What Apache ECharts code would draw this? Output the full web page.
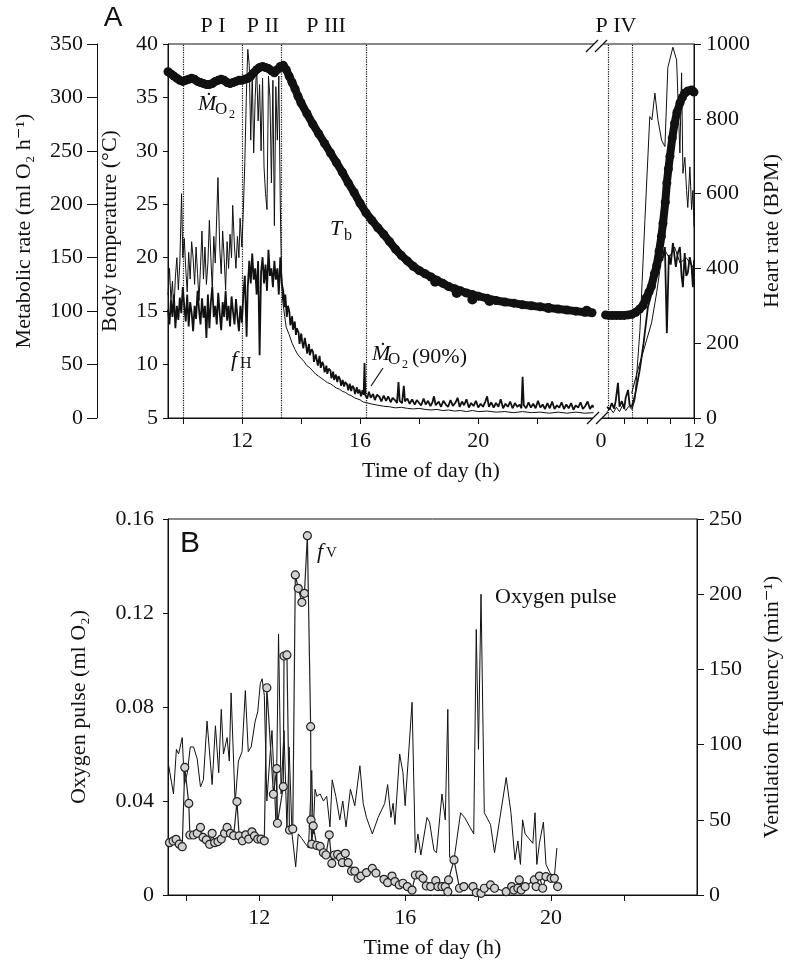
<!DOCTYPE html>
<html>
<head>
<meta charset="utf-8">
<script src="https://cdn.jsdelivr.net/npm/echarts@6/dist/echarts.min.js"></script>
<style>
html, body { margin: 0; background: #fff; }
#chart { width: 799px; height: 960px; }
</style>
</head>
<body>
<div id="chart"></div>
<script>
// second day (after the axis break) is squeezed: hour h of day 2 -> D2_ORIGIN + h * D2_SCALE
var D2_ORIGIN = 24.15, D2_SCALE = 0.2625;
function d2(h) { return D2_ORIGIN + h * D2_SCALE; }

// ---- panel A data: [hour, value] ----
// body temperature (degC)
var tbDay1 = [[9.5,37.4],[9.6,37.2],[9.7,37.0],[9.8,36.8],[9.9,36.6],[10.0,36.5],[10.1,36.6],[10.2,36.7],[10.3,36.8],[10.4,36.7],[10.5,36.5],[10.6,36.4],[10.7,36.3],[10.8,36.2],[10.9,36.2],[11.0,36.3],[11.1,36.5],[11.2,36.6],[11.3,36.7],[11.4,36.6],[11.5,36.4],[11.6,36.3],[11.7,36.4],[11.8,36.5],[11.9,36.6],[12.0,36.6],[12.1,36.7],[12.2,36.8],[12.3,37.0],[12.4,37.3],[12.5,37.6],[12.6,37.8],[12.7,37.9],[12.8,37.8],[12.9,37.7],[13.0,37.5],[13.1,37.3],[13.2,37.6],[13.3,37.9],[13.4,38.0],[13.5,37.6],[13.6,37.0],[13.7,36.4],[13.8,35.8],[13.9,35.1],[14.0,34.5],[14.2,33.5],[14.4,32.5],[14.6,31.6],[14.8,30.7],[15.0,29.8],[15.2,28.9],[15.4,28.0],[15.6,27.0],[15.8,26.1],[16.0,25.1],[16.2,24.2],[16.4,23.5],[16.6,22.8],[16.8,22.2],[17.0,21.5],[17.2,20.8],[17.4,20.2],[17.6,19.7],[17.8,19.2],[18.0,18.8],[18.2,18.5],[18.4,18.2],[18.6,17.9],[18.8,17.6],[19.0,17.3],[19.2,17.1],[19.4,16.9],[19.6,16.7],[19.8,16.55],[20.0,16.4],[20.3,16.2],[20.6,16.0],[20.9,15.85],[21.2,15.75],[21.5,15.6],[21.8,15.5],[22.1,15.4],[22.4,15.3],[22.7,15.2],[23.0,15.1],[23.3,15.0],[23.6,14.9],[23.85,14.85]];
var tbDay2 = [[0.6,14.65],[1.0,14.6],[1.5,14.6],[2.0,14.6],[2.5,14.6],[3.0,14.6],[3.5,14.65],[4.0,14.7],[4.5,14.9],[5.0,15.2],[5.4,15.5],[5.8,16.2],[6.2,16.8],[6.5,17.3],[6.9,18.5],[7.2,19.3],[7.5,20.6],[7.8,22.0],[8.0,23.2],[8.3,25.2],[8.5,27.0],[8.7,28.3],[8.9,29.5],[9.2,31.2],[9.5,32.6],[9.8,33.6],[10.2,34.5],[10.5,35.0],[10.8,35.4],[11.2,35.6],[11.7,35.7],[12.0,35.5]];
var tbStray = [[18.54,17.75],[19.27,16.7],[19.8,16.1],[20.38,15.95],[22.37,15.3],[23.67,15.04]];

// heart rate (BPM)
var fhDay1 = [[9.50,290],[9.55,250],[9.60,315],[9.65,270],[9.70,330],[9.75,240],[9.80,300],[9.85,262],[9.90,322],[9.95,280],[10.00,350],[10.05,300],[10.10,258],[10.15,330],[10.20,245],[10.25,310],[10.30,282],[10.35,232],[10.40,300],[10.45,265],[10.50,340],[10.55,290],[10.60,250],[10.65,320],[10.70,268],[10.75,300],[10.80,214],[10.85,330],[10.90,240],[10.95,310],[11.00,350],[11.05,270],[11.10,300],[11.15,250],[11.20,335],[11.25,280],[11.30,235],[11.35,310],[11.40,270],[11.45,340],[11.50,260],[11.55,300],[11.60,245],[11.65,325],[11.70,285],[11.75,250],[11.80,318],[11.85,270],[11.90,232],[11.95,300],[12.00,255],
  [12.05,330],[12.10,380],[12.16,217],[12.20,350],[12.25,420],[12.30,360],[12.35,440],[12.40,370],[12.45,400],[12.50,330],[12.55,420],[12.60,168],[12.65,390],[12.70,430],[12.75,360],[12.80,410],[12.85,340],[12.90,450],[12.95,380],[13.00,400],[13.05,350],[13.10,420],[13.15,370],[13.20,400],[13.25,330],[13.30,430],[13.35,360],
  [13.40,340],[13.44,296],[13.47,330],[13.52,270],[13.56,300],[13.61,282],[13.64,248],[13.70,272],[13.73,236],[13.79,258],[13.83,222],[13.86,240],[13.92,228],[13.95,198],[14.01,226],[14.04,204],[14.08,186],[14.13,214],[14.18,190],[14.21,172],[14.27,198],[14.30,168],[14.36,184],[14.41,176],[14.44,150],[14.50,170],[14.53,158],[14.57,140],[14.63,166],[14.67,134],[14.72,150],[14.76,142],[14.80,122],[14.86,140],[14.89,118],[14.94,132],[15.00,126],[15.03,106],[15.09,124],[15.12,102],[15.18,116],[15.23,96],[15.27,112],[15.32,104],[15.36,86],[15.41,102],[15.46,84],[15.50,96],[15.56,90],[15.60,74],[15.65,92],[15.70,72],[15.74,86],[15.79,80],[15.83,64],[15.89,82],[15.93,66],[15.98,76],[16.03,58],[16.08,74],[16.12,62],[16.15,147],[16.18,60],[16.24,52],[16.30,70],[16.36,54],[16.44,64],[16.50,48],[16.57,62],[16.66,56],[16.72,44],[16.80,60],[16.88,46],[16.95,58],[17.04,42],[17.10,54],[17.18,48],[17.25,40],[17.30,96],[17.34,46],[17.42,40],[17.48,86],[17.52,44],[17.60,52],[17.68,38],[17.76,50],[17.85,36],[17.92,48],[18.00,40],[18.07,34],[18.15,52],[18.22,36],[18.30,46],[18.38,32],[18.45,42],[18.50,58],[18.56,34],[18.66,44],[18.74,30],[18.82,46],[18.90,36],[18.98,30],[19.06,48],[19.14,32],[19.22,40],[19.30,54],[19.37,30],[19.45,44],[19.52,34],[19.60,50],[19.68,28],[19.76,40],[19.84,32],[19.92,46],[20.00,28],[20.08,38],[20.16,30],[20.24,44],[20.30,58],[20.36,30],[20.44,42],[20.52,28],[20.60,40],[20.68,30],[20.76,50],[20.84,26],[20.92,38],[21.00,30],[21.08,44],[21.16,26],[21.24,40],[21.32,30],[21.40,36],[21.46,26],[21.50,110],[21.54,34],[21.62,26],[21.70,42],[21.78,28],[21.86,38],[21.94,26],[22.02,46],[22.10,28],[22.18,36],[22.26,24],[22.34,40],[22.42,26],[22.50,44],[22.58,24],[22.66,34],[22.74,28],[22.82,42],[22.90,24],[22.98,36],[23.06,26],[23.14,40],[23.22,22],[23.30,34],[23.38,28],[23.46,42],[23.54,24],[23.62,32],[23.70,44],[23.78,24],[23.86,34],[23.90,28]];
var fhDay2 = [[0.8,30],[1.1,22],[1.4,40],[1.7,25],[1.9,45],[2.2,94],[2.4,30],[2.7,45],[3.0,25],[3.2,55],[3.5,75],[3.7,35],[3.96,29],[4.4,61],[5.0,128],[5.5,200],[6.06,297],[6.5,330],[6.96,361],[7.3,400],[7.6,441],[7.9,420],[8.25,457],[8.5,227],[8.76,436],[9.0,410],[9.28,468],[9.66,404],[9.9,440],[10.18,457],[10.4,380],[10.57,350],[10.8,441],[11.0,380],[11.2,388],[11.45,430],[11.69,404],[11.86,350],[12.0,422]];

// metabolic rate (ml O2 per h)
var mo2Day1 = [[9.50,115],[9.55,140],[9.60,110],[9.65,128],[9.70,100],[9.75,132],[9.80,150],[9.85,120],[9.90,145],[9.96,210],[10.00,150],[10.05,168],[10.10,140],[10.15,118],[10.20,155],[10.25,130],[10.30,165],[10.35,150],[10.40,125],[10.45,160],[10.50,135],[10.55,110],[10.60,142],[10.65,175],[10.70,130],[10.75,160],[10.80,125],[10.85,145],[10.90,185],[10.95,150],[11.00,120],[11.05,170],[11.10,145],[11.15,190],[11.19,225],[11.25,160],[11.30,135],[11.35,175],[11.40,150],[11.45,120],[11.50,165],[11.55,140],[11.60,172],[11.65,150],[11.69,199],[11.75,160],[11.80,140],[11.85,170],[11.90,150],[11.94,187],[12.00,160],
  [12.05,195],[12.10,240],[12.15,300],[12.20,345],[12.25,330],[12.30,260],[12.35,322],[12.40,248],[12.45,300],[12.50,330],[12.55,278],[12.60,312],[12.65,250],[12.70,318],[12.75,235],[12.80,210],[12.85,195],[12.90,320],[12.95,300],[13.00,220],[13.05,316],[13.10,180],[13.15,310],[13.20,260],[13.25,320],[13.30,200],[13.34,136],
  [13.38,110],[13.45,95],[13.50,85],[13.60,78],[13.70,70],[13.80,64],[13.90,59],[14.00,56],[14.10,53],[14.20,49],[14.30,47],[14.40,44],[14.50,41],[14.60,39],[14.70,37],[14.80,35],[14.90,33],[15.00,32],[15.10,30],[15.20,28],[15.30,27],[15.40,25],[15.50,24],[15.60,22],[15.70,21],[15.80,19],[15.90,18],[16.00,17],[16.10,15],[16.20,14.5],[16.40,13],[16.60,12],[16.80,11],[17.00,10.5],[17.20,9.5],[17.40,10],[17.60,9],[17.80,8.5],[18.00,9],[18.20,8],[18.40,7.5],[18.60,8],[18.80,7],[19.00,7.5],[19.20,6.5],[19.40,7],[19.60,6],[19.80,7],[20.00,6],[20.30,6.5],[20.60,5.5],[20.90,6],[21.20,5],[21.50,6],[21.80,5],[22.10,5.5],[22.40,4.5],[22.70,5.5],[23.00,4.5],[23.30,5.5],[23.60,4.5],[23.90,5]];
var mo2Day2 = [[0.8,6],[1.2,9],[1.6,5],[2.0,10],[2.4,6],[2.8,12],[3.2,7],[3.6,11],[4.0,8],[4.38,17],[5.03,82],[5.67,185],[6.3,282],[6.57,279],[6.96,304],[7.35,279],[7.82,260],[8.25,254],[8.63,328],[9.28,347],[9.76,335],[10.18,248],[10.4,323],[10.57,229],[10.82,244],[11.04,213],[11.2,197],[11.47,235],[11.69,195],[11.86,213],[12.0,179]];
var mo2x90Day2 = [[3.96,23],[4.64,42],[5.41,61],[6.53,89],[7.18,117],[7.73,145],[8.25,157],[8.8,150],[9.5,160],[10.2,145],[11.0,150],[12.0,140]];

// phase boundaries (dotted lines)
var phaseDay1 = [10.0, 12.0, 13.33, 16.2];
var phaseDay2 = [1.0, 4.0];

// ---- panel B data ----
// oxygen pulse (ml O2)
var opPulse = [[9.52,0.055],[9.65,0.043],[9.73,0.062],[9.79,0.060],[9.89,0.067],[9.95,0.047],[10.03,0.052],[10.11,0.063],[10.2,0.063],[10.3,0.058],[10.39,0.046],[10.47,0.049],[10.57,0.074],[10.71,0.047],[10.8,0.072],[10.89,0.052],[10.96,0.079],[11.02,0.060],[11.12,0.067],[11.18,0.057],[11.23,0.086],[11.34,0.039],[11.43,0.057],[11.53,0.061],[11.62,0.087],[11.7,0.061],[11.78,0.063],[11.89,0.074],[11.96,0.078],[12.03,0.090],[12.08,0.092],[12.14,0.085],[12.21,0.040],[12.3,0.060],[12.35,0.070],[12.42,0.045],[12.46,0.030],[12.53,0.111],[12.6,0.043],[12.68,0.070],[12.76,0.028],[12.82,0.063],[12.9,0.026],[13.0,0.012],[13.07,0.026],[13.17,0.024],[13.26,0.022],[13.35,0.020],[13.44,0.053],[13.48,0.026],[13.53,0.045],[13.58,0.042],[13.67,0.043],[13.76,0.040],[13.85,0.042],[13.94,0.029],[14.0,0.049],[14.1,0.042],[14.21,0.032],[14.29,0.040],[14.38,0.029],[14.5,0.045],[14.62,0.038],[14.76,0.055],[14.85,0.039],[14.94,0.033],[15.1,0.026],[15.26,0.033],[15.44,0.039],[15.52,0.047],[15.61,0.033],[15.67,0.039],[15.72,0.030],[15.85,0.060],[15.94,0.052],[16.0,0.038],[16.19,0.082],[16.28,0.018],[16.35,0.026],[16.43,0.017],[16.6,0.033],[16.67,0.031],[16.79,0.019],[16.86,0.018],[17.01,0.043],[17.1,0.032],[17.17,0.079],[17.22,0.016],[17.34,0.015],[17.52,0.035],[17.63,0.033],[17.88,0.026],[17.95,0.113],[18.01,0.062],[18.08,0.128],[18.17,0.035],[18.34,0.030],[18.45,0.018],[18.77,0.050],[18.9,0.035],[19.01,0.015],[19.09,0.023],[19.16,0.013],[19.22,0.032],[19.29,0.026],[19.5,0.022],[19.56,0.035],[19.61,0.013],[19.68,0.022],[19.72,0.022],[19.79,0.031],[19.86,0.013],[20.0,0.0085],[20.09,0.0078],[20.16,0.020]];
// ventilation frequency (per min)
var fvRate = [[9.54,34.8],[9.64,35.9],[9.72,37.0],[9.81,33.8],[9.89,32.1],[9.96,84.8],[10.07,60.9],[10.1,39.9],[10.2,39.9],[10.3,41.0],[10.39,44.9],[10.46,38.3],[10.55,36.6],[10.64,33.7],[10.71,41],[10.78,34.8],[10.87,35.5],[10.96,37.2],[11.05,41],[11.12,44.9],[11.21,41],[11.3,39.5],[11.39,62.1],[11.45,39.3],[11.54,36],[11.63,40],[11.71,37.2],[11.8,42],[11.87,39.3],[11.96,37.2],[12.05,37.2],[12.14,36],[12.21,137.8],[12.39,67],[12.48,84],[12.5,47.7],[12.66,72],[12.68,158.9],[12.76,159.6],[12.83,43.2],[12.92,43.9],[12.99,212.8],[13.07,203.9],[13.17,194.6],[13.24,200.6],[13.32,238.9],[13.41,111.9],[13.42,49.9],[13.44,33.8],[13.48,45.9],[13.58,32.9],[13.67,32.3],[13.76,28.1],[13.83,26.6],[13.92,40],[13.99,21],[14.06,26.6],[14.15,27],[14.23,25],[14.28,21.5],[14.36,27.7],[14.44,21.5],[14.53,15.9],[14.62,15.9],[14.71,11.1],[14.79,12.6],[14.94,14.9],[15.1,17.7],[15.2,14.6],[15.42,10.4],[15.52,8.2],[15.64,12.6],[15.72,8.9],[15.84,6.7],[15.94,7.8],[16.06,5.6],[16.19,3.3],[16.28,13.3],[16.4,13.3],[16.49,11.1],[16.58,6.0],[16.7,5.6],[16.84,9.5],[16.9,5.6],[17.01,5.6],[17.1,5.6],[17.17,2.2],[17.19,10.0],[17.34,23.3],[17.49,4.5],[17.61,5.6],[17.86,5.6],[17.95,1.6],[18.08,1.1],[18.17,4.5],[18.34,6.7],[18.45,4.5],[18.77,2.2],[18.92,5.6],[18.98,3.3],[19.09,4.5],[19.13,10.0],[19.18,3.3],[19.29,5.6],[19.54,10.0],[19.59,5.6],[19.68,12.6],[19.77,4.5],[19.86,12.2],[20.0,11.1],[20.09,11.1],[20.18,5.6]];

var SERIF = '"Liberation Serif", "DejaVu Serif", serif';
var SANS = '"Liberation Sans", "DejaVu Sans", sans-serif';
var INK = '#111';

// day 1 then a gap then day 2 on the squeezed part of the axis
function joinDays(day1, day2) {
    var out = day1.slice();
    out.push([24.05, '-']);
    day2.forEach(function (p) { out.push([d2(p[0]), p[1]]); });
    return out;
}

function yAxisOf(o) {
    return {
        type: 'value', gridIndex: o.grid, position: o.pos, offset: o.offset || 0,
        min: o.min, max: o.max, interval: o.interval,
        name: o.name, nameLocation: 'middle', nameGap: o.gap,
        nameTextStyle: { fontFamily: SERIF, fontSize: 22, color: INK },
        axisLine: { show: true, onZero: false, lineStyle: { color: INK, width: 1 } },
        axisTick: { show: true, inside: false, length: o.tick || 6, lineStyle: { color: INK } },
        axisLabel: { fontFamily: SERIF, fontSize: 22, color: INK, margin: o.margin || 10,
            formatter: function (v) { return String(v); } },
        splitLine: { show: false }
    };
}

function xAxisOf(grid, max, ticks, labels, fmt) {
    return {
        type: 'value', gridIndex: grid, min: 9.5, max: max,
        name: 'Time of day (h)', nameLocation: 'middle', nameGap: 42,
        nameTextStyle: { fontFamily: SERIF, fontSize: 22, color: INK },
        axisLine: { show: true, onZero: false, lineStyle: { color: INK, width: 1 } },
        axisTick: { show: true, inside: false, length: 6, customValues: ticks, lineStyle: { color: INK } },
        axisLabel: { fontFamily: SERIF, fontSize: 22, color: INK, margin: 12, customValues: labels, formatter: fmt },
        splitLine: { show: false }
    };
}

function txt(s, x, y, size, o) {
    o = o || {};
    return {
        type: 'text', z: 100, x: x, y: y,
        style: {
            text: s, fill: INK,
            font: (o.italic ? 'italic ' : '') + size + 'px ' + (o.sans ? SANS : SERIF),
            textAlign: o.align || 'left', textVerticalAlign: o.valign || 'bottom'
        }
    };
}
function seg(x1, y1, x2, y2) {
    return { type: 'line', z: 100, shape: { x1: x1, y1: y1, x2: x2, y2: y2 }, style: { stroke: INK, lineWidth: 1.2 } };
}
function blank(x, y, w, h) {
    return { type: 'rect', z: 99, shape: { x: x, y: y, width: w, height: h }, style: { fill: '#fff' } };
}

var phaseLines = phaseDay1.map(function (v) { return { xAxis: v }; })
    .concat(phaseDay2.map(function (v) { return { xAxis: d2(v) }; }));

var dom = document.getElementById('chart');
var chart = echarts.init(dom);

var option = {
    animation: false,
    backgroundColor: '#fff',
    textStyle: { fontFamily: SERIF },
    grid: [
        { left: 168, right: 105, top: 44, height: 374, show: true, borderColor: INK, borderWidth: 1 },
        { left: 168, right: 102, top: 519, height: 376, show: true, borderColor: INK, borderWidth: 1 }
    ],
    xAxis: [
        xAxisOf(0, d2(12), [10, 12, 14, 16, 18, 20, 22, d2(3), d2(6), d2(9), d2(12)], [12, 16, 20, d2(0), d2(12)],
            function (v) { return v > 24 ? String(Math.round((v - D2_ORIGIN) / D2_SCALE)) : String(v); }),
        xAxisOf(1, 24, [10, 12, 14, 16, 18, 20, 22], [12, 16, 20],
            function (v) { return String(v); })
    ],
    yAxis: [
        yAxisOf({ grid: 0, pos: 'left', min: 5, max: 40, interval: 5, name: 'Body temperature (°C)', gap: 47, tick: 5, margin: 10 }),
        yAxisOf({ grid: 0, pos: 'left', offset: 71, min: 0, max: 350, interval: 50, name: 'Metabolic rate (ml O₂ h⁻¹)', gap: 62, tick: 10, margin: 14 }),
        yAxisOf({ grid: 0, pos: 'right', min: 0, max: 1000, interval: 200, name: 'Heart rate (BPM)', gap: 58, tick: 7, margin: 12 }),
        yAxisOf({ grid: 1, pos: 'left', min: 0, max: 0.16, interval: 0.04, name: 'Oxygen pulse (ml O₂)', gap: 78, tick: 5, margin: 14 }),
        yAxisOf({ grid: 1, pos: 'right', min: 0, max: 250, interval: 50, name: 'Ventilation frequency (min⁻¹)', gap: 64, tick: 7, margin: 12 })
    ],
    series: [
        {
            name: 'phases', type: 'line', xAxisIndex: 0, yAxisIndex: 0, data: [],
            markLine: {
                silent: true, symbol: ['none', 'none'], label: { show: false },
                lineStyle: { type: 'dotted', color: INK, width: 1.2 },
                data: phaseLines
            }
        },
        {
            name: 'MO2', type: 'line', xAxisIndex: 0, yAxisIndex: 1, showSymbol: false,
            lineStyle: { color: INK, width: 1 }, data: joinDays(mo2Day1, mo2Day2)
        },
        {
            name: 'MO2 (90%)', type: 'line', xAxisIndex: 0, yAxisIndex: 1, showSymbol: false,
            lineStyle: { color: INK, width: 1 }, data: mo2x90Day2.map(function (p) { return [d2(p[0]), p[1]]; })
        },
        {
            name: 'fH', type: 'line', xAxisIndex: 0, yAxisIndex: 2, showSymbol: false,
            lineStyle: { color: INK, width: 1.8 }, data: joinDays(fhDay1, fhDay2)
        },
        {
            name: 'Tb', type: 'line', xAxisIndex: 0, yAxisIndex: 0, symbol: 'circle', symbolSize: 9,
            showAllSymbol: true, itemStyle: { color: INK, opacity: 1 }, lineStyle: { color: INK, width: 8 },
            data: joinDays(tbDay1, tbDay2), z: 5
        },
        {
            name: 'Tb dots', type: 'scatter', xAxisIndex: 0, yAxisIndex: 0, symbolSize: 10,
            itemStyle: { color: INK, opacity: 1 }, data: tbStray, z: 5
        },
        {
            name: 'Oxygen pulse', type: 'line', xAxisIndex: 1, yAxisIndex: 3, showSymbol: false,
            lineStyle: { color: INK, width: 1 }, data: opPulse
        },
        {
            name: 'fV', type: 'line', xAxisIndex: 1, yAxisIndex: 4, symbol: 'circle', symbolSize: 8,
            showAllSymbol: true,
            itemStyle: { color: '#d2d2d2', borderColor: '#222', borderWidth: 1.2, opacity: 1 },
            lineStyle: { color: '#222', width: 1.2 }, data: fvRate, z: 4
        }
    ],
    graphic: [
        txt('A', 113, 18, 28, { sans: true, align: 'center', valign: 'middle' }),
        txt('P I', 213, 26, 22, { align: 'center', valign: 'middle' }),
        txt('P II', 263, 26, 22, { align: 'center', valign: 'middle' }),
        txt('P III', 326, 26, 22, { align: 'center', valign: 'middle' }),
        txt('P IV', 616, 26, 22, { align: 'center', valign: 'middle' }),
        txt('Ṁ', 198, 115, 22, { italic: true }), txt('O', 215, 118, 17), txt('2', 229, 121, 12),
        txt('T', 330, 240, 22, { italic: true }), txt('b', 344, 244, 16),
        txt('f', 231, 371, 22, { italic: true }), txt('H', 240, 372, 16),
        txt('Ṁ', 372, 365, 22, { italic: true }), txt('O', 388, 368, 17), txt('2', 402, 371, 12),
        txt('(90%)', 412, 368, 22),
        seg(383, 368, 371, 386),
        // axis break marks
        blank(594, 41, 9, 6), blank(593, 415, 9, 6),
        seg(586, 52, 598, 40), seg(595, 52, 607, 40),
        seg(587, 424, 599, 412), seg(596, 424, 608, 412),
        txt('B', 190, 544, 30, { sans: true, align: 'center', valign: 'middle' }),
        txt('f', 317, 563, 22, { italic: true }), txt('V', 326, 561, 15),
        txt('Oxygen pulse', 495, 597, 22, { valign: 'middle' })
    ]
};

chart.setOption(option);
</script>
</body>
</html>
